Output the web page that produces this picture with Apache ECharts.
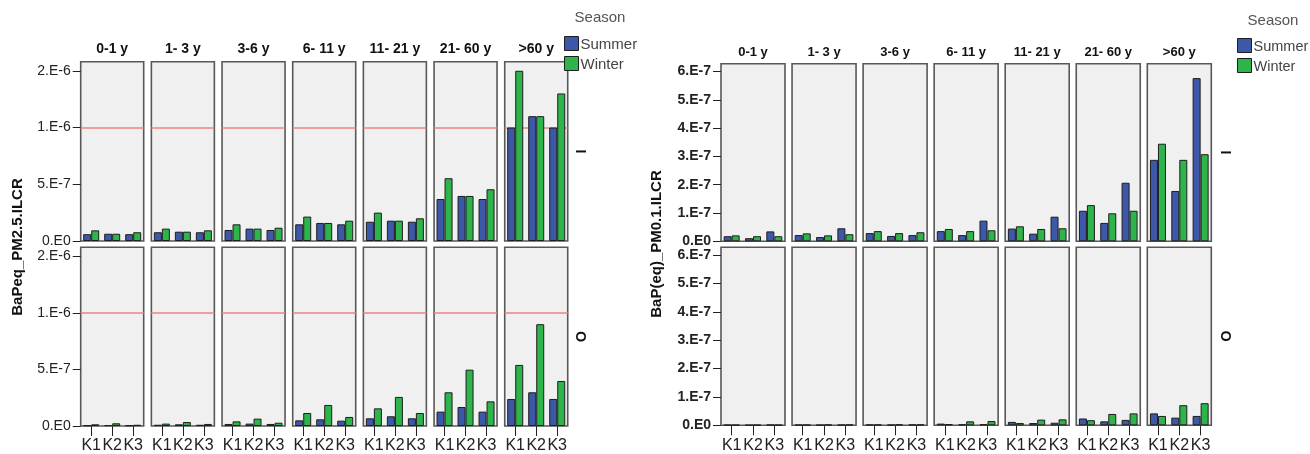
<!DOCTYPE html>
<html>
<head>
<meta charset="utf-8">
<title>BaPeq ILCR by age group and season</title>
<script src="https://cdn.jsdelivr.net/npm/echarts@6/dist/echarts.min.js"></script>
<style>
  html, body { margin: 0; padding: 0; background: #ffffff; }
  #chart { width: 1310px; height: 454px; }
</style>
</head>
<body>
<div id="chart"></div>
<script>
// Age groups (panel columns), sites (categories) and seasons (series)
const ageGroups = ['0-1 y', '1- 3 y', '3-6 y', '6- 11 y', '11- 21 y', '21- 60 y', '>60 y'];
const sites = ['K1', 'K2', 'K3'];
const seasons = ['Summer', 'Winter'];
const rowLabels = ['I', 'O'];

// BaPeq_PM2.5 ILCR, row "I": one [K1, K2, K3] triple per age group
const pm25SummerI = [
  [6.0e-8, 6.4e-8, 6.0e-8], [7.7e-8, 8.2e-8, 7.7e-8], [9.7e-8, 1.09e-7, 9.7e-8],
  [1.47e-7, 1.59e-7, 1.47e-7], [1.70e-7, 1.79e-7, 1.70e-7], [3.70e-7, 3.97e-7, 3.70e-7],
  [1.0e-6, 1.1e-6, 1.0e-6]
];
const pm25WinterI = [
  [9.4e-8, 6.4e-8, 7.7e-8], [1.09e-7, 8.2e-8, 9.4e-8], [1.47e-7, 1.09e-7, 1.17e-7],
  [2.15e-7, 1.59e-7, 1.79e-7], [2.50e-7, 1.79e-7, 2.00e-7], [5.53e-7, 3.97e-7, 4.56e-7],
  [1.5e-6, 1.1e-6, 1.3e-6]
];
// BaPeq_PM2.5 ILCR, row "O"
const pm25SummerO = [
  [5e-9, 8e-9, 6e-9], [1.1e-8, 1.5e-8, 1.1e-8], [1.8e-8, 2.1e-8, 1.8e-8],
  [5.0e-8, 5.9e-8, 4.7e-8], [6.8e-8, 8.6e-8, 6.8e-8], [1.27e-7, 1.68e-7, 1.27e-7],
  [2.39e-7, 2.98e-7, 2.39e-7]
];
const pm25WinterO = [
  [1.5e-8, 2.4e-8, 1.1e-8], [2.1e-8, 3.5e-8, 1.8e-8], [4.1e-8, 6.5e-8, 2.9e-8],
  [1.15e-7, 1.86e-7, 8.0e-8], [1.56e-7, 2.57e-7, 1.15e-7], [2.98e-7, 4.98e-7, 2.18e-7],
  [5.4e-7, 9.0e-7, 3.98e-7]
];

// BaP(eq)_PM0.1 ILCR, row "I"
const pm01SummerI = [
  [1.8e-8, 1.1e-8, 3.5e-8], [2.2e-8, 1.5e-8, 4.6e-8], [2.9e-8, 1.9e-8, 2.2e-8],
  [3.6e-8, 2.2e-8, 7.3e-8], [4.5e-8, 2.7e-8, 8.7e-8], [1.08e-7, 6.5e-8, 2.07e-7],
  [2.88e-7, 1.78e-7, 5.77e-7]
];
const pm01WinterI = [
  [2.1e-8, 1.8e-8, 1.8e-8], [2.8e-8, 2.1e-8, 2.5e-8], [3.6e-8, 2.9e-8, 3.2e-8],
  [4.35e-8, 3.6e-8, 3.9e-8], [5.3e-8, 4.35e-8, 4.6e-8], [1.28e-7, 9.9e-8, 1.08e-7],
  [3.45e-7, 2.88e-7, 3.08e-7]
];
// BaP(eq)_PM0.1 ILCR, row "O"
const pm01SummerO = [
  [1.5e-9, 1e-9, 2e-9], [2e-9, 1.5e-9, 2e-9], [2.5e-9, 2e-9, 2.5e-9],
  [6e-9, 3.5e-9, 4e-9], [1.2e-8, 8e-9, 9e-9], [2.4e-8, 1.4e-8, 1.9e-8],
  [4.2e-8, 2.7e-8, 3.3e-8]
];
const pm01WinterO = [
  [1.5e-9, 1.5e-9, 1.5e-9], [2e-9, 2.5e-9, 2.5e-9], [2.5e-9, 3.5e-9, 3e-9],
  [4.5e-9, 1.4e-8, 1.5e-8], [8e-9, 2.0e-8, 2.1e-8], [1.8e-8, 4.0e-8, 4.2e-8],
  [3.3e-8, 7.1e-8, 7.8e-8]
];

// Value-axis ticks and their printed labels
const pm25TickValues = [0, 5e-7, 1e-6, 1.5e-6];
const pm25TickLabels = ['0.E0', '5.E-7', '1.E-6', '2.E-6'];
const pm01TickValues = [0, 1e-7, 2e-7, 3e-7, 4e-7, 5e-7, 6e-7];
const pm01TickLabels = ['0.E0', '1.E-7', '2.E-7', '3.E-7', '4.E-7', '5.E-7', '6.E-7'];

// Acceptable-risk reference line drawn on the PM2.5 panels
const riskThreshold = 1e-6;

const FONT = '"Liberation Sans", Arial, sans-serif';
const SEASON_COLORS = { Summer: '#3D58A8', Winter: '#2DB44B' };

const grids = [], xAxes = [], yAxes = [], series = [], graphics = [];

function labelFor(values, labels) {
  return function (v) {
    let best = 0;
    for (let i = 1; i < values.length; i++) {
      if (Math.abs(values[i] - v) < Math.abs(values[best] - v)) best = i;
    }
    return labels[best];
  };
}

function buildPanel(cfg) {
  const rows = [[cfg.summerI, cfg.winterI], [cfg.summerO, cfg.winterO]];
  rows.forEach(function (rowData, r) {
    ageGroups.forEach(function (age, c) {
      const idx = grids.length;
      const left = cfg.left0 + c * cfg.pitch;
      grids.push({
        left: left, top: cfg.rowTops[r], width: cfg.cellW, height: cfg.rowHeights[r],
        show: true, backgroundColor: '#F0F0F0', borderColor: '#585858', borderWidth: 1.6
      });
      const bottomRow = r === 1;
      xAxes.push({
        type: 'category', gridIndex: idx, data: sites,
        axisLine: { show: false },
        axisTick: { show: bottomRow, alignWithLabel: true, length: 10, lineStyle: { color: '#222', width: 1 } },
        axisLabel: {
          show: bottomRow, interval: 0, hideOverlap: false, margin: 12,
          fontSize: 16, color: '#222', fontFamily: FONT
        },
        splitLine: { show: false }
      });
      const firstCol = c === 0;
      yAxes.push({
        type: 'value', gridIndex: idx, min: 0, max: cfg.yMax,
        axisLine: { show: false },
        splitLine: { show: false },
        axisTick: {
          show: firstCol, length: 8, customValues: cfg.tickValues,
          lineStyle: { color: '#222', width: 1 }
        },
        axisLabel: {
          show: firstCol, customValues: cfg.tickValues, margin: 10,
          fontSize: 14, fontWeight: cfg.labelWeight, color: '#222', fontFamily: FONT,
          formatter: labelFor(cfg.tickValues, cfg.tickLabels)
        }
      });
      seasons.forEach(function (s, k) {
        const bar = {
          name: s, type: 'bar', xAxisIndex: idx, yAxisIndex: idx,
          data: rowData[k][c], barWidth: 8, barGap: '0%', z: 3,
          itemStyle: { color: SEASON_COLORS[s], borderColor: '#1e1e1e', borderWidth: 1 },
          emphasis: { disabled: true }, animation: false
        };
        if (k === 0 && cfg.threshold != null) {
          // reference line sits underneath the bars
          bar.markLine = {
            silent: true, symbol: 'none', animation: false, z: 1, precision: 12,
            label: { show: false },
            lineStyle: { color: '#EE8383', width: 1.5, type: 'solid' },
            data: [{ yAxis: cfg.threshold }]
          };
        }
        series.push(bar);
      });
      if (r === 0) {
        graphics.push({
          type: 'text', x: left + cfg.cellW / 2, y: cfg.titleY,
          style: {
            text: age, fill: '#111', font: 'bold ' + cfg.titleSize + 'px ' + FONT,
            textAlign: 'center', textVerticalAlign: 'middle'
          }
        });
      }
    });
    // row facet label
    graphics.push({
      type: 'text', x: cfg.rowLabelX, y: cfg.rowTops[r] + cfg.rowHeights[r] / 2,
      rotation: -Math.PI / 2,
      style: {
        text: rowLabels[r], fill: '#111', font: 'bold 14px ' + FONT,
        textAlign: 'center', textVerticalAlign: 'middle'
      }
    });
  });
  // value-axis title
  graphics.push({
    type: 'text', x: cfg.axisTitleX, y: cfg.axisTitleY, rotation: Math.PI / 2,
    style: {
      text: cfg.axisTitle, fill: '#111', font: 'bold 15px ' + FONT,
      textAlign: 'center', textVerticalAlign: 'middle'
    }
  });
  // season legend: title, swatches and names
  graphics.push({
    type: 'text', x: cfg.seasonX, y: cfg.seasonY,
    style: {
      text: 'Season', fill: '#555', font: '15px ' + FONT,
      textAlign: 'center', textVerticalAlign: 'middle'
    }
  });
  seasons.forEach(function (s, k) {
    const y = cfg.legendTop + k * 20;
    graphics.push({
      type: 'rect', shape: { x: cfg.legendX, y: y, width: 14, height: 14 },
      style: { fill: SEASON_COLORS[s], stroke: '#1e1e1e', lineWidth: 1 }
    });
    graphics.push({
      type: 'text', x: cfg.legendX + 16, y: y + 8,
      style: {
        text: s, fill: '#444', font: cfg.legendSize + 'px ' + FONT,
        textAlign: 'left', textVerticalAlign: 'middle'
      }
    });
  });
}

buildPanel({
  summerI: pm25SummerI, winterI: pm25WinterI, summerO: pm25SummerO, winterO: pm25WinterO,
  left0: 80.7, pitch: 70.67, cellW: 63,
  rowTops: [61.7, 247.3], rowHeights: [179.3, 178.7],
  yMax: 1.58e-6, tickValues: pm25TickValues, tickLabels: pm25TickLabels, labelWeight: 'normal',
  threshold: riskThreshold, titleY: 49.5, titleSize: 14,
  rowLabelX: 580, axisTitleX: 18, axisTitleY: 247, axisTitle: 'BaPeq_PM2.5.ILCR',
  seasonX: 600, seasonY: 18, legendX: 564.5, legendTop: 36.5, legendSize: 15
});

buildPanel({
  summerI: pm01SummerI, winterI: pm01WinterI, summerO: pm01SummerO, winterO: pm01WinterO,
  left0: 721, pitch: 71.05, cellW: 64,
  rowTops: [63.7, 247.3], rowHeights: [177.6, 178],
  yMax: 6.28e-7, tickValues: pm01TickValues, tickLabels: pm01TickLabels, labelWeight: 'bold',
  threshold: null, titleY: 52.5, titleSize: 13,
  rowLabelX: 1225, axisTitleX: 657, axisTitleY: 244, axisTitle: 'BaP(eq)_PM0.1.ILCR',
  seasonX: 1273, seasonY: 21, legendX: 1237.5, legendTop: 38.5, legendSize: 14.5
});

const chart = echarts.init(document.getElementById('chart'), null, { renderer: 'canvas' });
chart.setOption({
  animation: false,
  backgroundColor: '#ffffff',
  textStyle: { fontFamily: FONT },
  grid: grids,
  xAxis: xAxes,
  yAxis: yAxes,
  series: series,
  graphic: graphics
});
</script>
</body>
</html>
